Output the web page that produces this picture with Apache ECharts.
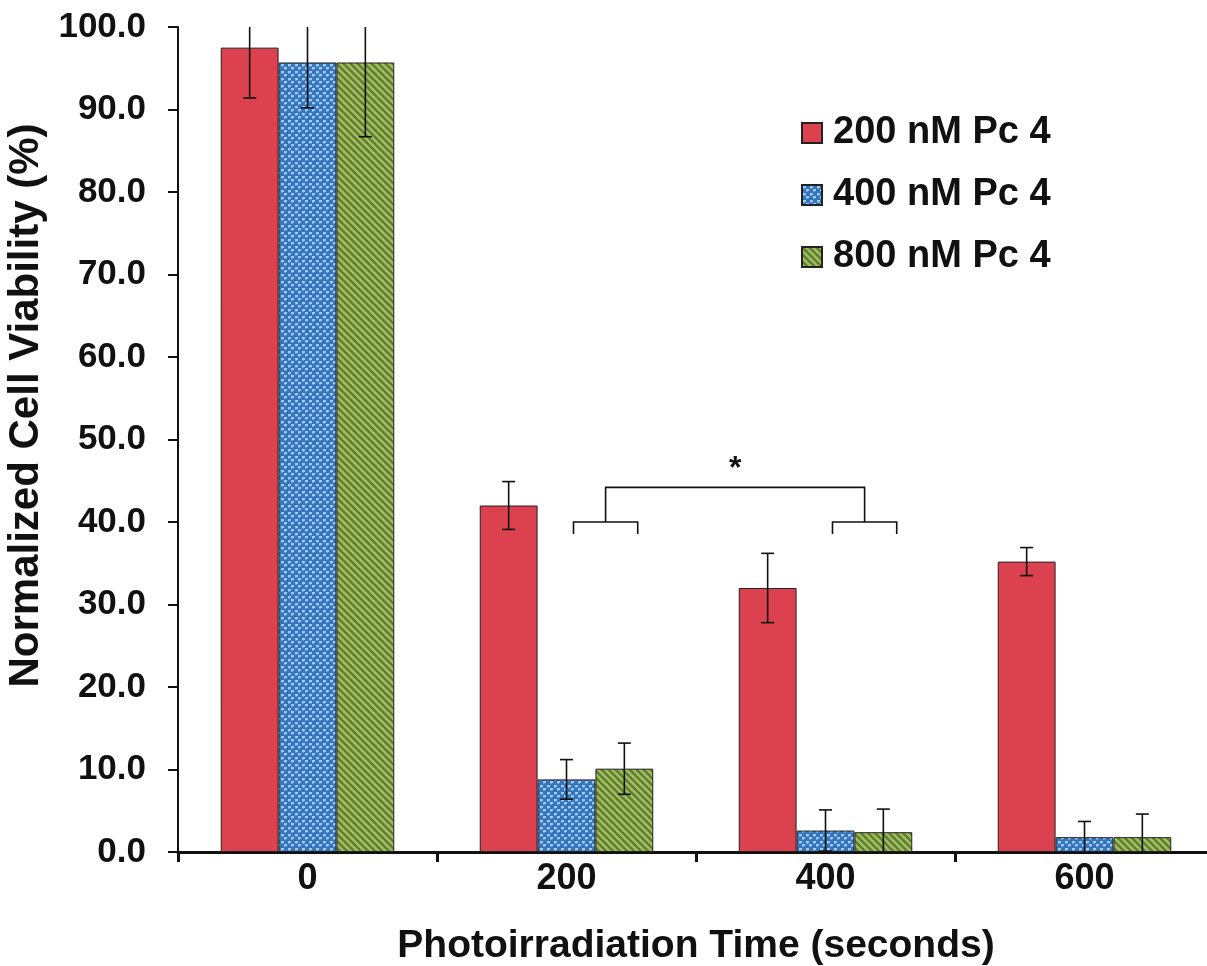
<!DOCTYPE html>
<html>
<head>
<meta charset="utf-8">
<script src="https://cdn.jsdelivr.net/npm/echarts@6/dist/echarts.min.js"></script>
<style>
html,body{margin:0;padding:0;background:#fff;}
#chart{width:1207px;height:966px;}
</style>
</head>
<body>
<div id="chart"></div>
<script>
// ---- data ----
const categories = ['0', '200', '400', '600'];
const seriesNames = ['200 nM Pc 4', '400 nM Pc 4', '800 nM Pc 4'];
const red = [97.5, 42.0, 32.0, 35.2];
const redErr = [6.1, 2.9, 4.2, 1.7];
const blue = [95.7, 8.8, 2.6, 1.8];
const blueErr = [5.5, 2.4, 2.5, 1.9];
const green = [95.7, 10.1, 2.4, 1.8];
const greenErr = [9.0, 3.1, 2.8, 2.8];
// significance: [fromCategory, toCategory, topLineValue, subBracketValue]
const sigFrom = [1];
const sigTo = [2];
const sigTop = [44.2];
const sigSub = [40.0];
const sigLabel = ['*'];

const FONT = "'Liberation Sans', Arial, sans-serif";

function makePattern(kind) {
  const c = document.createElement('canvas');
  if (kind === 'dots') {
    c.width = 7; c.height = 7;
    const g = c.getContext('2d');
    g.fillStyle = '#3775bd';
    g.fillRect(0, 0, 7, 7);
    g.fillStyle = '#9ccaf2';
    g.fillRect(1, 1, 3, 2);
    g.fillRect(4, 4, 3, 2);
    g.fillStyle = '#6aa0da';
    g.fillRect(1, 3, 2, 1);
    g.fillRect(4, 6, 2, 1);
  } else {
    c.width = 7; c.height = 7;
    const g = c.getContext('2d');
    g.fillStyle = '#a1bc62';
    g.fillRect(0, 0, 7, 7);
    g.strokeStyle = '#5f7e2d';
    g.lineWidth = 2.4;
    for (let k = -1; k <= 1; k++) {
      g.beginPath();
      g.moveTo(k * 7 - 1, -1);
      g.lineTo(k * 7 + 8, 8);
      g.stroke();
    }
  }
  return { image: c, repeat: 'repeat' };
}

const colors = ['#dc4150', makePattern('dots'), makePattern('stripes')];
const values = [red, blue, green];
const errs = [redErr, blueErr, greenErr];
const GAP = 0.33;

const barSeries = values.map((v, i) => ({
  name: seriesNames[i],
  type: 'bar',
  data: v,
  barGap: 0,
  barCategoryGap: (GAP * 100) + '%',
  itemStyle: { color: colors[i], borderColor: '#222', borderWidth: 1 },
  emphasis: { disabled: true },
  z: 2
}));

const errSeries = values.map((v, i) => ({
  type: 'custom',
  name: 'err' + i,
  data: v.map((val, k) => [k, val, errs[i][k]]),
  encode: { x: 0, y: 1 },
  clip: true,
  z: 5,
  silent: true,
  renderItem: function (params, api) {
    const cat = api.value(0), val = api.value(1), e = api.value(2);
    const bw = api.size([1, 0])[0];
    const barW = bw * (1 - GAP) / 3;
    const c = api.coord([cat, val]);
    const x = c[0] + (i - 1) * barW;
    const lo = Math.max(0, val - e);
    const hi = val + e;
    const yLo = api.coord([cat, lo])[1];
    const yHi = api.coord([cat, hi])[1];
    const half = 6.5;
    const st = { stroke: '#111', lineWidth: 1.6 };
    const children = [
      { type: 'line', shape: { x1: x, y1: yLo, x2: x, y2: yHi }, style: st },
      { type: 'line', shape: { x1: x - half, y1: yHi, x2: x + half, y2: yHi }, style: st }
    ];
    if (lo > 0) children.push({ type: 'line', shape: { x1: x - half, y1: yLo, x2: x + half, y2: yLo }, style: st });
    return { type: 'group', children: children };
  }
}));

const sigSeries = {
  type: 'custom',
  name: 'sig',
  data: sigFrom.map((f, k) => [f, sigTo[k], sigTop[k], sigSub[k]]),
  encode: { x: 0, y: 2 },
  clip: false,
  z: 6,
  silent: true,
  renderItem: function (params, api) {
    const f = api.value(0), t = api.value(1), top = api.value(2), sub = api.value(3);
    const bw = api.size([1, 0])[0];
    const st = { stroke: '#111', lineWidth: 1.6, fill: null };
    const yTop = api.coord([f, top])[1];
    const ySub = api.coord([f, sub])[1];
    const drop = 12;
    const children = [];
    const mids = [];
    [f, t].forEach(cat => {
      const cx = api.coord([cat, sub])[0];
      const l = cx + 0.027 * bw, r = cx + 0.275 * bw;
      children.push({ type: 'polyline', shape: { points: [[l, ySub + drop], [l, ySub], [r, ySub], [r, ySub + drop]] }, style: st });
      mids.push((l + r) / 2);
    });
    children.push({ type: 'polyline', shape: { points: [[mids[0], ySub], [mids[0], yTop], [mids[1], yTop], [mids[1], ySub]] }, style: st });
    children.push({ type: 'text', style: { text: sigLabel[params.dataIndex], x: (mids[0] + mids[1]) / 2, y: yTop - 2, align: 'center', verticalAlign: 'bottom', font: 'bold 32px ' + FONT, fill: '#111' } });
    return { type: 'group', children: children };
  }
};

const chart = echarts.init(document.getElementById('chart'));
chart.setOption({
  animation: false,
  backgroundColor: '#fff',
  grid: { left: 178, top: 27, width: 1036, height: 825, outerBoundsMode: 'none', containLabel: false },
  legend: {
    data: seriesNames,
    orient: 'vertical',
    left: 796,
    top: 106,
    icon: 'rect',
    itemWidth: 20,
    itemHeight: 20,
    itemGap: 18,
    selectedMode: false,
    textStyle: { fontFamily: FONT, fontWeight: 'bold', fontSize: 38, color: '#111', lineHeight: 44, padding: [0, 0, 0, 6] }
  },
  xAxis: {
    type: 'category',
    data: categories,
    name: 'Photoirradiation Time (seconds)',
    nameLocation: 'middle',
    nameGap: 75,
    nameTextStyle: { fontFamily: FONT, fontWeight: 'bold', fontSize: 39, color: '#111' },
    axisLine: { lineStyle: { color: '#111', width: 3 } },
    axisTick: { show: true, length: 10, lineStyle: { color: '#111', width: 3 } },
    axisLabel: { fontFamily: FONT, fontWeight: 'bold', fontSize: 36, color: '#111', margin: 9 }
  },
  yAxis: {
    type: 'value',
    min: 0,
    max: 100,
    interval: 10,
    name: 'Normalized Cell Viability (%)',
    nameLocation: 'middle',
    nameGap: 122,
    nameTextStyle: { fontFamily: FONT, fontWeight: 'bold', fontSize: 42, color: '#111', padding: [0, 0, 0, 68] },
    axisLine: { show: true, lineStyle: { color: '#111', width: 2 } },
    axisTick: { show: true, length: 10, lineStyle: { color: '#111', width: 2 } },
    splitLine: { show: false },
    axisLabel: { fontFamily: FONT, fontWeight: 'bold', fontSize: 35, color: '#111', margin: 32, formatter: v => v.toFixed(1) }
  },
  series: barSeries.concat(errSeries).concat([sigSeries])
});
</script>
</body>
</html>
